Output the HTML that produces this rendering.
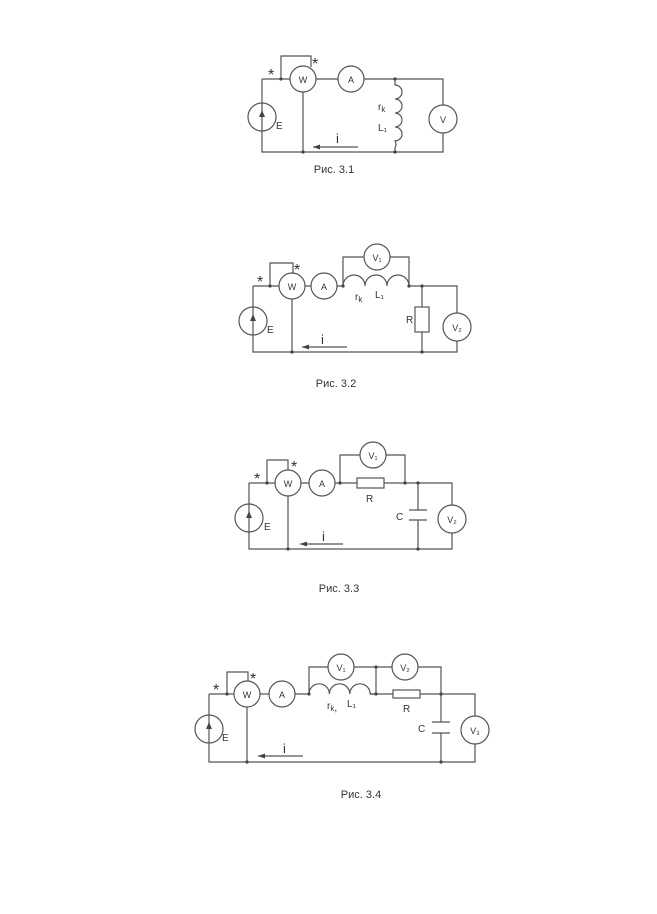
<!DOCTYPE html>
<html><head><meta charset="utf-8"><style>
html,body{margin:0;padding:0;background:#fff;}
svg{display:block;}
text{font-family:"Liberation Sans",sans-serif;fill:#333;}
</style></head><body>
<svg width="657" height="914" viewBox="0 0 657 914" xmlns="http://www.w3.org/2000/svg">
<g stroke="#555" stroke-width="1.2" fill="none">
<!-- Fig 3.1 -->
<path d="M262 79 H290 M316 79 H338 M364 79 H443 V105 M443 133 V152 H262 V131 M262 103 V79"/>
<path d="M281 79 V56 H311 V67"/>
<path d="M303 92 V152"/>
<circle cx="262" cy="117" r="14"/><path d="M262 131 V103"/>
<circle cx="303" cy="79" r="13"/><circle cx="351" cy="79" r="13"/><circle cx="443" cy="119" r="14"/>
<path d="M395 79 V85 a7 7 0 0 1 0 14 a7 7 0 0 1 0 14 a7 7 0 0 1 0 14 a7 7 0 0 1 0 14 a7 7 0 0 1 0 7 V152"/>
<path d="M313 147 H358"/>
<!-- Fig 3.2 -->
<path d="M253 286 H279 M305 286 H311 M337 286 H343 M409 286 H457 V313 M457 341 V352 H253 V335 M253 307 V286"/>
<path d="M270 286 V263 H293 V273"/><path d="M292 299 V352"/>
<circle cx="253" cy="321" r="14"/><path d="M253 335 V307"/>
<circle cx="292" cy="286" r="13"/><circle cx="324" cy="286" r="13"/>
<circle cx="377" cy="257" r="13"/><circle cx="457" cy="327" r="14"/>
<path d="M343 286 a11 11 0 0 1 22 0 a11 11 0 0 1 22 0 a11 11 0 0 1 22 0"/>
<path d="M343 286 V257 H364 M390 257 H409 V286"/>
<path d="M422 286 V307 M422 332 V352"/><rect x="415" y="307" width="14" height="25"/>
<path d="M302 347 H347"/>
<!-- Fig 3.3 -->
<path d="M249 483 H275 M301 483 H309 M335 483 H357 M384 483 H452 V505 M452 533 V549 H249 V532 M249 504 V483"/>
<path d="M267 483 V460 H288 V470"/><path d="M288 496 V549"/>
<circle cx="249" cy="518" r="14"/><path d="M249 532 V504"/>
<circle cx="288" cy="483" r="13"/><circle cx="322" cy="483" r="13"/>
<circle cx="373" cy="455" r="13"/><circle cx="452" cy="519" r="14"/>
<rect x="357" y="478" width="27" height="10"/>
<path d="M340 483 V455 H360 M386 455 H405 V483"/>
<path d="M418 483 V510 M409 510 H427 M409 520 H427 M418 520 V549"/>
<path d="M300 544 H343"/>
<!-- Fig 3.4 -->
<path d="M209 694 H234 M260 694 H269 M295 694 H309 M370 694 H393 M420 694 H475 V716 M475 744 V762 H209 V743 M209 715 V694"/>
<path d="M227 694 V672 H248 V681"/><path d="M247 707 V762"/>
<circle cx="209" cy="729" r="14"/><path d="M209 743 V715"/>
<circle cx="247" cy="694" r="13"/><circle cx="282" cy="694" r="13"/>
<circle cx="341" cy="667" r="13"/><circle cx="405" cy="667" r="13"/><circle cx="475" cy="730" r="14"/>
<path d="M309 694 a10.2 10.2 0 0 1 20.4 0 a10.2 10.2 0 0 1 20.4 0 a10.2 10.2 0 0 1 20.4 0 H376"/>
<path d="M309 694 V667 H328 M354 667 H392 M418 667 H441 V694"/>
<path d="M376 667 V694"/>
<rect x="393" y="690" width="27" height="8"/>
<path d="M441 694 V722 M432 722 H450 M432 733 H450 M441 733 V762"/>
<path d="M258 756 H303"/>
</g>
<g fill="#444">
<circle cx="281" cy="79" r="1.6"/><circle cx="303" cy="152" r="1.6"/><circle cx="395" cy="79" r="1.6"/><circle cx="395" cy="152" r="1.6"/>
<circle cx="270" cy="286" r="1.6"/><circle cx="292" cy="352" r="1.6"/><circle cx="343" cy="286" r="1.6"/><circle cx="409" cy="286" r="1.6"/><circle cx="422" cy="286" r="1.6"/><circle cx="422" cy="352" r="1.6"/>
<circle cx="267" cy="483" r="1.6"/><circle cx="288" cy="549" r="1.6"/><circle cx="340" cy="483" r="1.6"/><circle cx="405" cy="483" r="1.6"/><circle cx="418" cy="483" r="1.6"/><circle cx="418" cy="549" r="1.6"/>
<circle cx="227" cy="694" r="1.6"/><circle cx="247" cy="762" r="1.6"/><circle cx="309" cy="694" r="1.6"/><circle cx="376" cy="694" r="1.6"/><circle cx="376" cy="667" r="1.6"/><circle cx="441" cy="694" r="1.6"/><circle cx="441" cy="762" r="1.6"/>
<path d="M313 147 l7 -2.5 v5 z"/><path d="M302 347 l7 -2.5 v5 z"/><path d="M300 544 l7 -2.5 v5 z"/><path d="M258 756 l7 -2.5 v5 z"/>
<path d="M262 110 l-3 7 h6 z"/><path d="M253 314 l-3 7 h6 z"/><path d="M249 511 l-3 7 h6 z"/><path d="M209 722 l-3 7 h6 z"/>
</g>
<g font-size="9" text-anchor="middle">
<text x="303" y="83">W</text><text x="351" y="83">A</text><text x="443" y="123">V</text>
<text x="292" y="290">W</text><text x="324" y="290">A</text><text x="377" y="261">V₁</text><text x="457" y="331">V₂</text>
<text x="288" y="487">W</text><text x="322" y="487">A</text><text x="373" y="459">V₁</text><text x="452" y="523">V₂</text>
<text x="247" y="698">W</text><text x="282" y="698">A</text><text x="341" y="671">V₁</text><text x="405" y="671">V₂</text><text x="475" y="734">V₃</text>
</g>
<g font-size="10">
<text x="276" y="129">E</text><text x="378" y="110">r<tspan font-size="8" dy="2">k</tspan></text><text x="378" y="131">L₁</text>
<text x="267" y="333">E</text><text x="355" y="300">r<tspan font-size="8" dy="2">k</tspan></text><text x="375" y="298">L₁</text><text x="406" y="323">R</text>
<text x="264" y="530">E</text><text x="366" y="502">R</text><text x="396" y="520">C</text>
<text x="222" y="741">E</text><text x="327" y="709">r<tspan font-size="8" dy="2">k</tspan>,</text><text x="347" y="707">L₁</text><text x="403" y="712">R</text><text x="418" y="732">C</text>
</g>
<g font-size="13" fill="#333">
<text x="336" y="143">i</text><text x="321" y="344">i</text><text x="322" y="541">i</text><text x="283" y="753">i</text>
</g>
<g font-size="16" fill="#444">
<text x="268" y="80">*</text><text x="312" y="69">*</text>
<text x="257" y="287">*</text><text x="294" y="275">*</text>
<text x="254" y="484">*</text><text x="291" y="472">*</text>
<text x="213" y="695">*</text><text x="250" y="684">*</text>
</g>
<g font-size="11" text-anchor="middle">
<text x="334" y="173">Рис. 3.1</text>
<text x="336" y="387">Рис. 3.2</text>
<text x="339" y="592">Рис. 3.3</text>
<text x="361" y="798">Рис. 3.4</text>
</g>
</svg>
</body></html>
